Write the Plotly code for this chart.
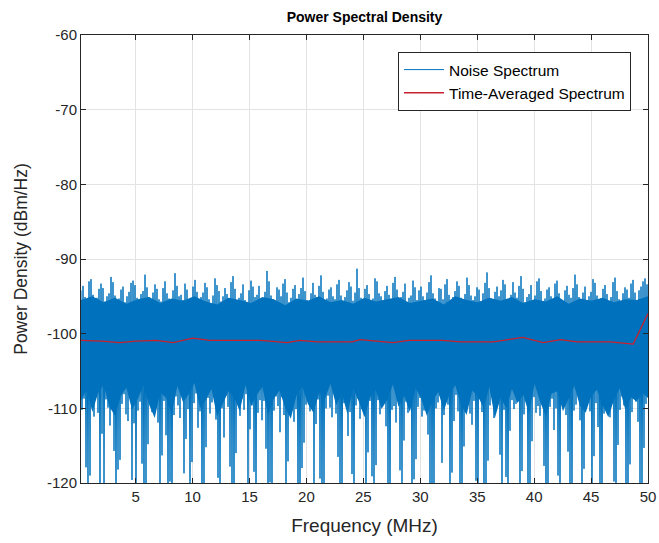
import numpy as np
import plotly.graph_objects as go

# ---- data ----
freq_start_mhz = 0.2
freq_stop_mhz = 50.0

# individual spectral spikes (alternating local maxima / minima)
noise_peaks = [
    -94.2,-93.6,-95.1,-95.4,-93.0,-92.7,-94.8,-95.6,-95.2,-94.0,-93.3,-93.9,-95.7,-95.0,-94.6,-92.4,-93.1,-94.9,-95.5,-95.3,
    -94.1,-93.7,-95.8,-95.0,-94.4,-93.2,-92.9,-93.5,-95.2,-95.9,-94.7,-94.3,-92.1,-93.8,-95.1,-95.6,-94.5,-93.4,-94.0,-95.4,
    -95.7,-93.9,-93.0,-94.6,-95.3,-95.8,-94.2,-91.9,-93.6,-95.0,-94.8,-95.5,-93.3,-94.1,-95.9,-95.2,-93.7,-92.8,-94.4,-95.6,
    -95.1,-94.5,-93.2,-93.8,-95.4,-96.0,-94.9,-92.6,-93.5,-94.3,-95.7,-95.0,-93.9,-94.7,-95.3,-93.1,-92.3,-94.0,-95.8,-95.2,
    -94.6,-93.4,-95.5,-95.9,-94.2,-92.9,-93.7,-95.1,-94.8,-93.6,-95.6,-95.3,-94.4,-91.6,-93.0,-94.9,-95.4,-95.7,-93.8,-94.1,
    -95.0,-93.3,-92.7,-94.5,-95.8,-95.2,-94.0,-93.5,-95.6,-94.7,-93.9,-92.5,-94.3,-95.5,-95.9,-94.6,-93.2,-94.8,-95.1,-93.6,
    -92.2,-94.4,-95.7,-95.3,-94.1,-93.8,-95.0,-95.4,-93.4,-92.8,-94.9,-95.8,-95.1,-94.2,-93.1,-93.7,-95.6,-94.5,-91.3,-93.9,
    -95.2,-95.5,-94.0,-93.5,-94.7,-95.9,-95.3,-92.6,-93.0,-94.6,-95.0,-95.7,-94.3,-93.6,-94.8,-95.4,-93.2,-92.4,-94.1,-95.6,
    -95.1,-94.4,-93.3,-95.8,-95.2,-94.9,-92.9,-93.8,-95.5,-94.2,-93.7,-95.0,-95.9,-94.5,-93.1,-92.2,-94.6,-95.3,-95.7,-93.9,
    -94.0,-95.4,-93.4,-92.7,-94.8,-95.6,-95.1,-94.3,-93.0,-93.6,-95.2,-95.8,-94.7,-92.5,-93.5,-94.9,-95.5,-95.0,-93.8,-94.1,
    -95.7,-94.6,-93.2,-91.8,-93.9,-95.3,-95.9,-94.4,-93.7,-95.0,-94.2,-92.8,-93.4,-95.4,-95.6,-94.8,-93.1,-94.5,-95.2,-93.6,
    -92.3,-94.0,-95.8,-95.1,-94.7,-93.5,-95.5,-94.9,-93.0,-92.6,-94.3,-95.7,-95.3,-94.1,-93.8,-95.0,-95.6,-93.3,-92.9,-94.6,
    -95.4,-95.9,-94.2,-93.6,-94.8,-95.2,-93.9,-92.1,-93.4,-95.1,-95.5,-94.5,-93.7,-95.8,-95.0,-94.4,-92.7,-93.2,-94.9,-95.6,
    -95.3,-94.0,-93.5,-94.7,-95.7,-95.1,-93.1,-92.5,-94.3,-95.4,-95.9,-94.6,-93.8,-94.1,-95.2,-93.3,-92.8,-94.5,-95.5,-94.2,
    -93.7,-93.0,-92.6,-93.4,
]

noise_troughs = [
    -110.2,-108.7,-117.9,-121.4,-119.0,-109.5,-111.1,-107.9,-110.6,-122.8,-113.4,-120.1,-108.8,-109.9,-112.3,-110.0,-115.7,-123.6,-118.2,-116.9,
    -109.4,-108.1,-110.8,-111.7,-108.5,-119.6,-112.0,-122.1,-110.3,-109.1,-117.4,-123.9,-121.0,-114.8,-108.9,-110.5,-107.8,-109.7,-111.9,-120.4,
    -116.3,-109.0,-113.6,-122.6,-119.8,-124.0,-110.9,-108.4,-109.6,-111.3,-108.2,-118.7,-114.1,-110.1,-121.9,-117.2,-109.3,-108.0,-112.6,-110.4,
    -123.3,-120.6,-115.2,-108.6,-110.7,-109.2,-107.7,-111.5,-119.3,-122.4,-110.0,-113.9,-108.3,-109.8,-117.8,-121.3,-123.5,-116.0,-109.4,-111.0,
    -108.7,-110.2,-108.1,-120.8,-112.8,-109.6,-118.5,-122.9,-110.6,-108.9,-111.6,-109.0,-115.4,-123.1,-119.9,-121.7,-110.3,-108.4,-109.7,-113.2,
    -108.5,-110.9,-121.2,-117.1,-109.2,-108.0,-111.8,-110.1,-122.3,-124.2,-118.0,-114.6,-109.5,-108.6,-110.4,-109.1,-120.3,-112.1,-108.8,-119.4,
    -123.7,-121.5,-110.0,-108.3,-109.9,-111.2,-107.9,-110.7,-116.5,-120.9,-122.6,-109.3,-108.2,-113.7,-110.5,-118.8,-123.0,-109.6,-108.7,-111.4,
    -110.1,-108.4,-121.8,-115.9,-109.0,-119.1,-122.2,-117.6,-108.9,-110.8,-109.4,-108.1,-112.4,-120.7,-123.8,-110.2,-109.7,-111.9,-108.5,-118.3,
    -121.1,-114.3,-109.1,-110.6,-108.0,-122.7,-119.5,-116.8,-109.8,-108.6,-111.1,-110.3,-107.8,-113.5,-120.2,-123.4,-121.6,-110.0,-109.2,-108.3,
    -117.3,-110.9,-108.7,-109.5,-122.0,-118.6,-111.7,-108.2,-110.4,-120.5,-123.2,-115.1,-109.3,-108.8,-110.7,-112.2,-109.0,-119.7,-121.4,-108.6,
    -110.5,-123.9,-120.0,-117.0,-109.6,-108.1,-111.3,-109.9,-108.4,-116.2,-122.5,-110.2,-119.2,-123.6,-113.0,-108.9,-110.1,-109.4,-108.0,-121.9,
    -118.4,-110.8,-109.1,-122.9,-120.6,-114.4,-108.5,-110.6,-109.7,-111.0,-108.3,-117.7,-123.1,-121.2,-109.8,-108.7,-112.9,-110.0,-119.0,-122.3,
    -109.2,-108.6,-110.9,-115.8,-120.4,-123.7,-110.3,-109.5,-108.2,-111.6,-121.5,-118.1,-109.0,-108.8,-110.4,-122.4,-116.4,-109.3,-112.5,-120.9,
    -123.4,-110.7,-108.1,-109.8,-111.2,-108.9,-119.8,-122.1,-114.9,-110.2,-108.4,-109.6,-121.0,-123.0,-117.5,-110.5,-108.7,-109.1,-111.8,-120.1,
    -122.7,-115.3,-109.4,-108.0,
]

# edges of the solid (densely overdrawn) part of the noise band
noise_core_upper = [
    -95.5,-95.0,-95.8,-95.2,-96.0,-95.4,-95.1,-95.9,-95.3,-95.6,-95.0,-95.7,-96.1,-95.2,-95.5,-95.9,-95.1,
    -95.4,-96.2,-95.3,-95.6,-95.0,-95.8,-95.5,-96.0,-95.2,-95.7,-95.4,-95.1,-95.9,-95.6,-95.3,-96.1,-95.0,
    -95.5,-95.8,-95.2,-95.6,-95.1,-95.9,-95.4,-95.7,-95.0,-96.0,-95.3,-95.6,-95.2,-95.8,-95.4,-95.5,-95.0,
]
noise_core_lower = [
    -109.0,-107.5,-110.5,-108.0,-106.8,-109.8,-111.0,-108.4,-107.2,-110.2,
    -108.8,-106.9,-109.5,-111.3,-107.8,-108.6,-110.7,-107.0,-109.2,-108.1,
    -106.6,-110.0,-108.9,-107.4,-111.1,-109.3,-107.7,-108.5,-110.4,-106.9,
    -109.7,-108.2,-107.1,-110.9,-108.7,-107.6,-109.9,-111.4,-108.3,-107.0,
    -109.4,-110.6,-107.9,-108.8,-106.7,-109.6,-108.0,-110.8,-107.3,-109.1,
    -111.2,-108.5,-107.5,-110.1,-108.9,-106.8,-109.8,-108.3,-110.5,-107.2,
    -108.7,-111.0,-109.0,-107.8,-110.3,-108.1,-106.9,-109.5,-110.9,-107.6,
    -108.4,-109.9,-107.1,-111.3,-108.6,-110.0,-107.4,-109.3,-108.2,-110.7,
    -106.7,-109.2,-111.1,-108.0,-107.7,-110.4,-108.8,-107.0,-109.7,-110.6,
    -108.3,-107.5,-109.6,-111.2,-108.9,-107.3,-110.2,-108.5,-109.1,-107.9,
    -108.6,
]

avg_freq = [0.2, 2, 3.6, 5, 6.8, 8.3, 10, 11.5, 14, 16, 18.3, 19.4, 21, 24, 24.7, 26, 27.6,
            29, 32, 33.5, 36.4, 39, 40.8, 42.3, 43.8, 46.7, 48.7, 50]
avg_vals = [-100.9, -101.0, -101.2, -101.0, -100.9, -101.2, -100.6, -100.9, -100.9, -100.9, -101.2,
            -100.9, -101.1, -101.1, -100.8, -101.0, -101.2, -100.9, -100.9, -101.1, -101.1, -100.5,
            -101.2, -100.8, -101.1, -101.1, -101.4, -97.3]

x_ticks = [5, 10, 15, 20, 25, 30, 35, 40, 45, 50]
x_tick_text = ["5", "10", "15", "20", "25", "30", "35", "40", "45", "50"]
y_ticks = [-120, -110, -100, -90, -80, -70, -60]
y_tick_text = ["-120", "-110", "-100", "-90", "-80", "-70", "-60"]

# ---- build the series ----
noise_vals = []
for p, t in zip(noise_peaks, noise_troughs):
    noise_vals.append(p)
    noise_vals.append(t)
noise_freq = np.linspace(freq_start_mhz, freq_stop_mhz, len(noise_vals))

up_freq = list(np.linspace(freq_start_mhz, freq_stop_mhz, len(noise_core_upper)))
lo_freq = list(np.linspace(freq_start_mhz, freq_stop_mhz, len(noise_core_lower)))
core_x = up_freq + lo_freq[::-1]
core_y = noise_core_upper + noise_core_lower[::-1]

FONT = "Liberation Sans, Arial, Helvetica, sans-serif"
AXC = "#262626"
BLUE = "#0072BD"

fig = go.Figure()
fig.add_trace(go.Scatter(x=core_x, y=core_y, mode="lines", fill="toself", fillcolor=BLUE,
                         line=dict(color=BLUE, width=0), showlegend=False, hoverinfo="skip"))
fig.add_trace(go.Scatter(x=noise_freq, y=noise_vals, mode="lines", name="Noise Spectrum",
                         line=dict(color=BLUE, width=1, simplify=False)))
fig.add_trace(go.Scatter(x=avg_freq, y=avg_vals, mode="lines", name="Time-Averaged Spectrum",
                         line=dict(color="#C8202C", width=1.3)))

axis_common = dict(showline=True, linecolor=AXC, linewidth=1, mirror="ticks",
                   ticks="inside", ticklen=5, tickcolor=AXC, automargin=False,
                   showgrid=True, gridcolor="#E3E3E3", gridwidth=1, zeroline=False,
                   tickfont=dict(family=FONT, size=15, color=AXC))

fig.update_xaxes(range=[freq_start_mhz, freq_stop_mhz], tickvals=x_ticks, ticktext=x_tick_text,
                 title=dict(text="Frequency (MHz)", font=dict(family=FONT, size=19, color=AXC), standoff=14),
                 **axis_common)
fig.update_yaxes(range=[-120, -60], tickvals=y_ticks, ticktext=y_tick_text,
                 title=dict(text="Power Density (dBm/Hz)", font=dict(family=FONT, size=17.5, color=AXC), standoff=14),
                 **axis_common)

fig.update_layout(
    width=659, height=543,
    margin=dict(l=81, r=11, t=35, b=60, autoexpand=False),
    paper_bgcolor="white", plot_bgcolor="white",
    title=dict(text="<b>Power Spectral Density</b>", x=0.5, xref="paper", xanchor="center",
               y=1 - 17 / 543, yanchor="middle", yref="container", automargin=False,
               font=dict(family=FONT, size=14, color="black")),
    legend=dict(x=0.97, y=0.962, xanchor="right", yanchor="top",
                bgcolor="white", bordercolor=AXC, borderwidth=1,
                font=dict(family=FONT, size=15.5, color="black"),
                tracegroupgap=0, itemwidth=40),
    showlegend=True,
)

page_fix = (
    "var gd=document.getElementById('{plot_id}');"
    "document.documentElement.style.margin='0';document.documentElement.style.overflow='hidden';"
    "document.body.style.margin='0';document.body.style.overflow='hidden';"
    "document.body.style.height='543px';"
    "gd.parentElement.style.height='543px';gd.parentElement.style.overflow='hidden';"
)
fig.write_html("out.html", config={"displayModeBar": False}, post_script=page_fix)
